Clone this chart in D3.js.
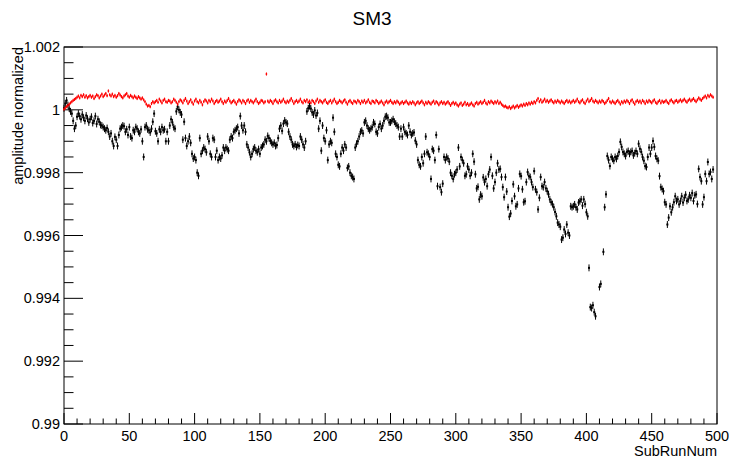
<!DOCTYPE html>
<html>
<head>
<meta charset="utf-8">
<script src="https://cdn.jsdelivr.net/npm/d3@7"></script>
<style>
  body { margin: 0; background: #fff; }
  text { font-family: "Liberation Sans", Arial, sans-serif; }
</style>
</head>
<body>
<script>
// amplitude, stored as offset from 1 in units of 1e-5, one entry per SubRunNum (0..497)
var blackOffsets = [
  5, 20, 30, 15, 4, -5, -12, -35, -60, -50,
  -22, -12, -20, -30, -15, -25, -35, -18, -28, -40,
  -30, -22, -42, -35, -20, -45, -30, -38, -48, -50,
  -55, -60, -65, -58, -70, -85, -75, -100, -115, -86,
  -95, -115, -80, -60, -55, -50, -52, -70, -62, -80,
  -55, -85, -90, -65, -70, -55, -60, -70, -75, -62,
  -100, -150, -55, -50, -62, -65, -72, -60, -38, -12,
  -68, -75, -100, -62, -70, -55, -65, -62, -100, -70,
  -100, -50, -30, -40, -55, -60, -5, 10, 0, -8,
  -15, -95, -38, -90, -115, -100, -85, -105, -140, -155,
  -150, -160, -200, -210, -90, -140, -130, -120, -125, -135,
  -85, -100, -140, -150, -90, -95, -150, -130, -160, -150,
  -155, -145, -120, -130, -120, -125, -130, -95, -85, -90,
  -70, -65, -60, -55, -75, -20, -50, -65, -50, -70,
  -110, -120, -135, -150, -140, -125, -120, -130, -135, -125,
  -140, -120, -115, -110, -95, -100, -83, -90, -99, -105,
  -110, -105, -115, -112, -90, -60, -50, -67, -44, -34,
  -40, -44, -70, -85, -95, -110, -115, -110, -118, -112,
  -115, -85, -95, -110, -120, -100, -5, 5, 12, 4,
  -8, -15, -2, -18, -10, -60, -35, -130, -50, -90,
  -100, -65, -160, -110, -100, -105, -25, -70, -140, -150,
  -175, -180, -140, -120, -130, -110, -120, -185, -180, -200,
  -210, -214, -220, -120, -108, -100, -85, -70, -66, -75,
  -40, -35, -50, -60, -65, -60, -55, -40, -45, -70,
  -75, -55, -45, -60, -50, -35, -22, -20, -25, -40,
  -40, -35, -30, -38, -44, -50, -55, -85, -60, -85,
  -55, -70, -75, -80, -50, -70, -80, -75, -72, -98,
  -110, -160, -175, -180, -150, -170, -140, -85, -135, -140,
  -150, -220, -125, -130, -160, -80, -243, -125, -246, -262,
  -235, -150, -160, -150, -155, -165, -200, -210, -220, -205,
  -200, -190, -120, -180, -150, -160, -170, -210, -205, -180,
  -190, -210, -200, -140, -165, -205, -250, -245, -285, -270,
  -275, -215, -230, -220, -243, -205, -190, -150, -210, -250,
  -230, -200, -170, -190, -188, -214, -246, -278, -214, -260,
  -310, -340, -330, -290, -237, -275, -307, -301, -250, -204,
  -211, -253, -294, -291, -230, -198, -211, -214, -230, -246,
  -195, -253, -262, -317, -280, -214, -243, -246, -230, -250,
  -259, -269, -285, -294, -300, -310, -325, -339, -359, -365,
  -372, -413, -407, -381, -395, -365, -391, -400, -307, -310,
  -307, -301, -310, -317, -295, -291, -285, -305, -285, -300,
  -326, -339, -503, -628, -631, -622, -644, -657, null, null,
  -564, -554, null, -452, -310, -269, -147, -160, -179, -150,
  -156, -162, -150, -156, -147, -134, -102, -118, -134, -140,
  -147, -134, -131, -140, -134, -131, -145, -138, -131, -140,
  -108, -124, -134, -150, -162, -179, -182, -150, -120, -140,
  -120, -99, -118, -147, -156, -162, -211, -246, -252, -259,
  -294, -301, -365, -343, -307, -326, -310, -294, -275, -290,
  -285, -301, -290, -275, -295, -280, -270, -290, -285, -272,
  -280, -265, -290, -272, -269, -300, -188, -214, -227, -301,
  -278, -204, -227, -166, -204, -198, -220, -190
];

var redOffsets = [
  2, 6, 10, 14, 18, 22, 26, 30, 33, 36,
  40, 44, 38, 46, 42, 48, 40, 45, 38, 42,
  46, 40, 44, 36, 42, 48, 45, 38, 44, 50,
  42, 47, 52, 45, 60, 48, 44, 50, 42, 46,
  40, 45, 52, 47, 42, 38, 44, 48, 52, 44,
  40, 46, 42, 38, 44, 40, 36, 42, 38, 34,
  38, 32, 26, 18, 12, 14, 10, 20, 26, 22,
  26, 30, 24, 34, 28, 22, 30, 34, 26, 24,
  30, 28, 22, 26, 34, 30, 24, 18, 26, 32,
  28, 22, 30, 36, 28, 20, 26, 32, 24, 18,
  28, 34, 26, 22, 30, 24, 16, 26, 32, 28,
  22, 30, 26, 34, 28, 20, 26, 30, 24, 28,
  34, 26, 20, 28, 24, 30, 36, 28, 22, 26,
  30, 24, 18, 26, 32, 28, 22, 30, 26, 20,
  28, 32, 24, 30, 26, 22, 28, 34, 26, 20,
  24, 30, 28, 22, 26, 114, 28, 24, 30, 26,
  20, 28, 32, 26, 22, 30, 24, 28, 34, 26,
  22, 28, 24, 30, 36, 28, 20, 26, 30, 24,
  28, 34, 26, 22, 30, 26, 32, 24, 28, 22,
  30, 26, 20, 28, 34, 24, 30, 26, 22, 28,
  32, 24, 20, 26, 30, 22, 28, 34, 26, 20,
  24, 30, 26, 22, 28, 32, 24, 18, 26, 30,
  24, 20, 28, 26, 22, 30, 26, 20, 28, 24,
  30, 22, 26, 32, 24, 20, 28, 26, 22, 30,
  26, 20, 24, 28, 22, 16, 24, 28, 22, 26,
  30, 24, 20, 26, 22, 28, 24, 18, 22, 26,
  20, 24, 28, 22, 18, 24, 20, 26, 22, 16,
  22, 26, 20, 24, 28, 22, 16, 24, 20, 26,
  22, 18, 24, 28, 20, 26, 22, 16, 22, 26,
  20, 24, 18, 22, 26, 20, 14, 20, 24, 18,
  22, 16, 12, 18, 22, 14, 18, 24, 16, 20,
  14, 18, 22, 16, 12, 20, 24, 18, 22, 26,
  20, 24, 30, 22, 18, 26, 22, 28, 24, 20,
  26, 22, 28, 20, 24, 18, 14, 10, 12, 8,
  6, 10, 4, 8, 12, 6, 10, 14, 8, 12,
  16, 12, 18, 14, 20, 16, 22, 18, 24, 20,
  26, 22, 30, 36, 26, 32, 24, 28, 34, 26,
  30, 24, 28, 32, 26, 22, 28, 24, 30, 26,
  22, 28, 24, 20, 26, 30, 24, 28, 22, 26,
  30, 24, 28, 34, 26, 22, 28, 32, 24, 20,
  28, 34, 26, 30, 36, 28, 24, 30, 26, 22,
  28, 24, 30, 26, 20, 24, 30, 36, 26, 22,
  28, 24, 20, 26, 30, 24, 18, 26, 22, 28,
  24, 30, 26, 20, 28, 32, 24, 18, 26, 30,
  24, 28, 22, 30, 26, 20, 28, 24, 30, 26,
  22, 28, 32, 24, 20, 26, 30, 22, 28, 24,
  26, 30, 24, 20, 28, 32, 26, 22, 28, 30,
  24, 28, 32, 26, 30, 34, 28, 24, 30, 34,
  28, 32, 36, 30, 26, 32, 38, 34, 30, 36,
  40, 44, 38, 46, 42, 48, 44, 40
];

var blackErr = 0.00011;
var redErr = 0.00005;

var xTicks = [0, 50, 100, 150, 200, 250, 300, 350, 400, 450, 500];
var yTicks = [0.99, 0.992, 0.994, 0.996, 0.998, 1, 1.002];

var W = 729, H = 459;
var frameL = 64, frameR = 717, frameT = 47, frameB = 424;

var svg = d3.select("body").append("svg")
    .attr("width", W)
    .attr("height", H);

var x = d3.scaleLinear().domain([0, 500]).range([frameL, frameR]);
var y = d3.scaleLinear().domain([0.99, 1.002]).range([frameB, frameT]);

function toPoints(offsets) {
    var pts = [];
    offsets.forEach(function(d, i) {
        if (d !== null) pts.push({ run: i, val: 1 + d * 1e-5 });
    });
    return pts;
}

var black = toPoints(blackOffsets);
var red = toPoints(redOffsets);

// frame
svg.append("rect")
    .attr("x", frameL).attr("y", frameT)
    .attr("width", frameR - frameL).attr("height", frameB - frameT)
    .attr("fill", "none").attr("stroke", "#000").attr("stroke-width", 1);

// x axis: ticks inside, labels below
var xAxis = svg.append("g").attr("transform", "translate(0," + frameB + ")");
d3.range(0, 501, 10).forEach(function(v) {
    var major = v % 50 === 0;
    xAxis.append("line")
        .attr("x1", x(v)).attr("x2", x(v))
        .attr("y1", 0).attr("y2", major ? -11 : -5.5)
        .attr("stroke", "#000");
});
xAxis.selectAll(".xl").data(xTicks).enter().append("text")
    .attr("x", function(d) { return x(d); })
    .attr("y", 17)
    .attr("text-anchor", "middle")
    .attr("font-size", 14.5)
    .text(function(d) { return d; });

// y axis
var yAxis = svg.append("g").attr("transform", "translate(" + frameL + ",0)");
d3.range(0, 25).forEach(function(k) {
    var v = 0.99 + k * 0.0005;
    var major = k % 4 === 0;
    yAxis.append("line")
        .attr("x1", 0).attr("x2", major ? 19 : 9.5)
        .attr("y1", y(v)).attr("y2", y(v))
        .attr("stroke", "#000");
});
yAxis.selectAll(".yl").data(yTicks).enter().append("text")
    .attr("x", -4)
    .attr("y", function(d) { return y(d) + 5; })
    .attr("text-anchor", "end")
    .attr("font-size", 14.5)
    .text(function(d) { return d3.format("~g")(d); });

// titles
svg.append("text")
    .attr("x", 372).attr("y", 25)
    .attr("text-anchor", "middle")
    .attr("font-size", 19)
    .text("SM3");

svg.append("text")
    .attr("transform", "translate(23," + frameT + ") rotate(-90)")
    .attr("text-anchor", "end")
    .attr("font-size", 14.5)
    .text("amplitude normalized");

svg.append("text")
    .attr("x", frameR).attr("y", 456)
    .attr("text-anchor", "end")
    .attr("font-size", 14.5)
    .text("SubRunNum");

// data with error bars
function drawSeries(pts, color, err, size, cls) {
    var g = svg.append("g").attr("class", cls);
    g.selectAll("line").data(pts).enter().append("line")
        .attr("x1", function(d) { return x(d.run); })
        .attr("x2", function(d) { return x(d.run); })
        .attr("y1", function(d) { return y(d.val + err); })
        .attr("y2", function(d) { return y(d.val - err); })
        .attr("stroke", color)
        .attr("stroke-width", 1);
    g.selectAll("rect").data(pts).enter().append("rect")
        .attr("x", function(d) { return x(d.run) - size / 2; })
        .attr("y", function(d) { return y(d.val) - size / 2; })
        .attr("width", size).attr("height", size)
        .attr("fill", color);
}

drawSeries(black, "#000", blackErr, 2, "black");
drawSeries(red, "#ff0000", redErr, 1.5, "red");
</script>
</body>
</html>
